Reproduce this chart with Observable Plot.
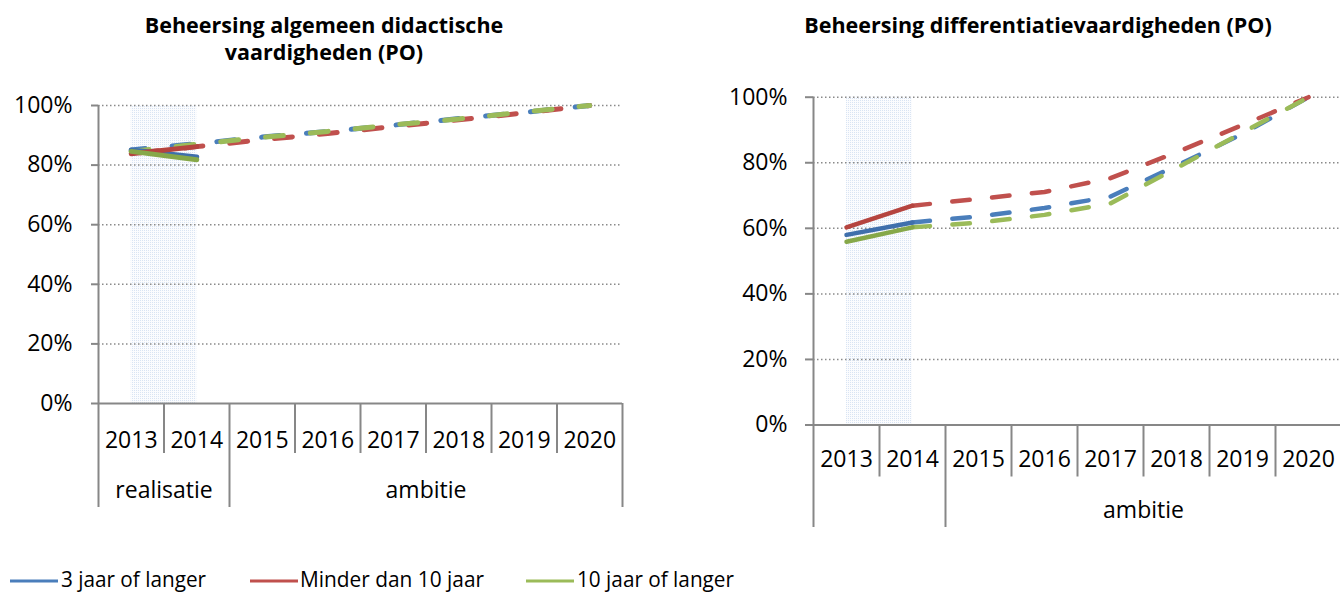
<!DOCTYPE html>
<html>
<head>
<meta charset="utf-8">
<script src="https://cdn.jsdelivr.net/npm/d3@7"></script>
<script src="https://cdn.jsdelivr.net/npm/@observablehq/plot@0.6"></script>
<style>
  html, body { margin: 0; padding: 0; background: #fff; overflow: hidden; }
  #wrap { position: relative; width: 1340px; height: 593px; overflow: hidden; font-family: 'Open Sans', sans-serif; }
  .chart { position: absolute; top: 0; }
  .chart svg { max-width: none !important; }
  #overlay { position: absolute; left: 0; top: 0; pointer-events: none; }
</style>
</head>
<body>
<div id="wrap">
  <div id="left" class="chart" style="left:0px;width:660px"></div>
  <div id="right" class="chart" style="left:680px;width:669px"></div>
</div>
<script>
// ---------- data ----------
const years = [2013, 2014, 2015, 2016, 2017, 2018, 2019, 2020];
const yTicks = [0, 20, 40, 60, 80, 100];
const seriesNames = ["3 jaar of langer", "Minder dan 10 jaar", "10 jaar of langer"];
const periodStarts = [2013, 2015];
const periodEnds = [2014, 2020];
const leftPeriods = ["realisatie", "ambitie"];
const rightPeriods = ["", "ambitie"];
const leftTitle = ["Beheersing algemeen didactische", "vaardigheden (PO)"];
const rightTitle = ["Beheersing differentiatievaardigheden (PO)"];

// left chart: Beheersing algemeen didactische vaardigheden (PO)
const leftRealYears = [2013, 2014];
const leftReal3 = [85.1, 82.7];
const leftRealMinder = [83.8, 86.2];
const leftReal10 = [84.6, 81.8];
const leftAmbYears = [2013, 2014, 2015, 2016, 2017, 2018, 2019, 2020];
const leftAmb3 = [85.1, 87.2, 89.4, 91.3, 93.4, 95.6, 97.7, 100];
const leftAmbMinder = [83.8, 86.2, 88.5, 90.6, 92.9, 95.2, 97.5, 100];
const leftAmb10 = [84.6, 87.0, 89.3, 91.3, 93.5, 95.5, 97.8, 100];

// right chart: Beheersing differentiatievaardigheden (PO)
const rightRealYears = [2013, 2014];
const rightReal3 = [58.0, 61.8];
const rightRealMinder = [60.3, 66.9];
const rightReal10 = [55.9, 60.3];
const rightAmbYears = [2014, 2015, 2016, 2017, 2018, 2019, 2020];
const rightAmb3 = [61.8, 63.6, 66.2, 69.7, 79.1, 88.8, 100];
const rightAmbMinder = [66.9, 69.0, 71.1, 75.3, 83.2, 91.5, 100];
const rightAmb10 = [60.3, 61.7, 64.1, 67.6, 78.4, 89.2, 100];

// ---------- styles ----------
const dashColors = ["#4A7EBB", "#C0504D", "#9BBB59"];
const solidColors = ["#3F6FAC", "#B5443F", "#86A849"];
const axisColor = "#878787";
const gridColor = "#8a8a8a";

function makeChart(c) {
  const plotH = c.height - c.marginTop - c.marginBottom;
  const below = px => -px / plotH * 100;
  const first = years[0], last = years[years.length - 1];
  const yearEdges = years.slice(1).map(y => y - 0.5).filter(e => !periodStarts.includes(e + 0.5));
  const groupEdges = [...periodStarts.slice(1).map(s => s - 0.5), last + 0.5];
  const periods = c.periods.map((label, i) => ({label, mid: (periodStarts[i] + periodEnds[i]) / 2}));
  const band = [{from: c.realYears[0], to: c.realYears[c.realYears.length - 1]}];
  const lineBase = {strokeWidth: c.lw, strokeLinecap: "round", strokeLinejoin: "round"};

  const marks = [
    Plot.rect(band, {x1: "from", x2: "to", y1: 0, y2: 100, fill: `url(#${c.patternId})`}),
    Plot.ruleY(yTicks.filter(t => t > 0), {x1: first - 0.5, x2: last + 0.5, stroke: gridColor, strokeWidth: 1.5, strokeDasharray: "1.5,2.5"}),
    Plot.axisY({ticks: yTicks, tickFormat: d => d + "%", tickSize: c.tickSize, tickPadding: c.tickPadding,
      stroke: axisColor, strokeWidth: 2, fill: "#000", fontSize: 23, label: null}),
    Plot.ruleX([first - 0.5], {y1: 100, y2: below(c.groupBottom), stroke: axisColor, strokeWidth: 2}),
    Plot.ruleY([0], {x1: first - 0.5, x2: last + 0.5, stroke: axisColor, strokeWidth: 2}),
    Plot.ruleX(yearEdges, {y1: 0, y2: below(c.yearBottom), stroke: axisColor, strokeWidth: 2}),
    Plot.ruleX(groupEdges, {y1: 0, y2: below(c.groupBottom), stroke: axisColor, strokeWidth: 2}),
    Plot.text(years, {x: d => d, y: below(c.yearLabel), text: d => String(d), fontSize: 23, fill: "#000"}),
    Plot.text(periods, {x: "mid", y: below(c.groupLabel), text: "label", fontSize: 23, fill: "#000"})
  ];
  c.amb.forEach((vals, i) => {
    marks.push(Plot.line(c.ambYears, {x: d => d, y: vals, stroke: dashColors[i], ...lineBase,
      strokeDasharray: c.dash, strokeDashoffset: c.dashOffsets[i]}));
  });
  c.real.forEach((vals, i) => {
    marks.push(Plot.line(c.realYears, {x: d => d, y: vals, stroke: solidColors[i], ...lineBase}));
  });

  const svg = Plot.plot({
    width: c.width, height: c.height,
    marginLeft: c.marginLeft, marginRight: c.marginRight, marginTop: c.marginTop, marginBottom: c.marginBottom,
    x: {domain: [first - 0.5, last + 0.5], axis: null},
    y: {domain: [0, 100], axis: null},
    style: {fontFamily: "'Open Sans', sans-serif", background: "transparent", overflow: "visible", color: "#000", maxWidth: "none"},
    marks
  });
  d3.select(svg).attr("width", c.width).attr("height", c.height)
    .style("width", c.width + "px").style("height", c.height + "px");
  d3.select(svg).insert("defs", ":first-child").html(
    `<pattern id="${c.patternId}" width="2" height="2" patternUnits="userSpaceOnUse">
       <rect width="2" height="2" fill="#fbfcfe"></rect>
       <rect x="0" y="0" width="1" height="1" fill="#d9e4f3"></rect>
     </pattern>`);
  return svg;
}

document.getElementById("left").append(makeChart({
  width: 660, height: 520, marginLeft: 98, marginRight: 38, marginTop: 105, marginBottom: 117,
  yearLabel: 37, yearBottom: 50, groupLabel: 87, groupBottom: 104,
  tickSize: 7, tickPadding: 19, periods: leftPeriods, patternId: "dotsL",
  realYears: leftRealYears, real: [leftReal3, leftRealMinder, leftReal10],
  ambYears: leftAmbYears, amb: [leftAmb3, leftAmbMinder, leftAmb10],
  lw: 5, dash: "18,27", dashOffsets: [4, 36, 0]
}));

document.getElementById("right").append(makeChart({
  width: 669, height: 540, marginLeft: 133, marginRight: 8, marginTop: 96.7, marginBottom: 115.5,
  yearLabel: 34.5, yearBottom: 52, groupLabel: 86, groupBottom: 102.5,
  tickSize: 8, tickPadding: 18, periods: rightPeriods, patternId: "dotsR",
  realYears: rightRealYears, real: [rightReal3, rightRealMinder, rightReal10],
  ambYears: rightAmbYears, amb: [rightAmb3, rightAmbMinder, rightAmb10],
  lw: 4.5, dash: "17.5,22.5", dashOffsets: [0, 0, 0]
}));

// ---------- titles and legend ----------
const overlay = d3.select("#wrap").append("svg").attr("id", "overlay")
  .attr("width", 1340).attr("height", 593)
  .style("font-family", "'Open Sans', sans-serif");

leftTitle.forEach((t, i) => overlay.append("text")
  .attr("x", 324).attr("y", 33 + i * 27).attr("text-anchor", "middle")
  .attr("font-size", 21.5).attr("font-weight", 700).attr("fill", "#000").text(t));
rightTitle.forEach((t, i) => overlay.append("text")
  .attr("x", 1038).attr("y", 33 + i * 27).attr("text-anchor", "middle")
  .attr("font-size", 21.5).attr("font-weight", 700).attr("fill", "#000").text(t));

const legendLineX = [10, 250, 526];
const legendTextX = [61, 300, 577];
const legendTextLen = [145, 184, 157];
seriesNames.forEach((name, i) => {
  overlay.append("line")
    .attr("x1", legendLineX[i]).attr("x2", legendLineX[i] + 48)
    .attr("y1", 581).attr("y2", 581)
    .attr("stroke", dashColors[i]).attr("stroke-width", 3);
  overlay.append("text")
    .attr("x", legendTextX[i]).attr("y", 587)
    .attr("font-size", 22).attr("fill", "#000")
    .attr("textLength", legendTextLen[i]).attr("lengthAdjust", "spacingAndGlyphs")
    .text(name);
});
</script>
</body>
</html>
